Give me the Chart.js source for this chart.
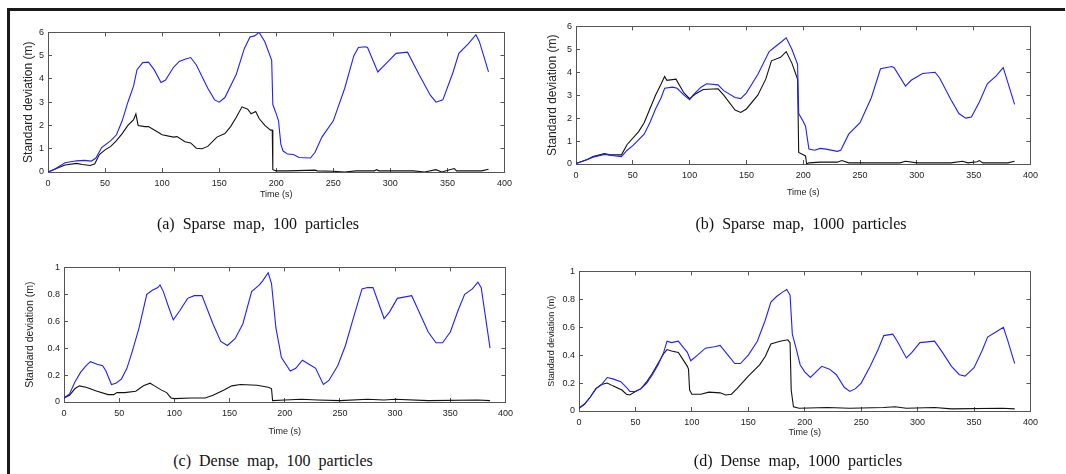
<!DOCTYPE html>
<html>
<head>
<meta charset="utf-8">
<script src="https://cdn.jsdelivr.net/npm/chart.js@4.4.1/dist/chart.umd.min.js"></script>
<style>
  body { margin: 0; background: #fff; width: 1066px; height: 474px; position: relative; overflow: hidden; }
  .frame-top { position: absolute; left: 7px; top: 8px; width: 1058px; height: 3px; background: #1a1a1a; }
  .frame-left { position: absolute; left: 7px; top: 8px; width: 3px; height: 466px; background: #1a1a1a; }
  .box { position: absolute; }
  .cap { position: absolute; font-family: "Liberation Serif", "Times New Roman", serif; font-size: 16px;
         word-spacing: 4px; color: #111; white-space: nowrap; transform: translate(-50%, -50%); }
</style>
</head>
<body>
<div class="frame-top"></div>
<div class="frame-left"></div>

<div class="box" id="boxA"><canvas id="chartA"></canvas></div>
<div class="box" id="boxB"><canvas id="chartB"></canvas></div>
<div class="box" id="boxC"><canvas id="chartC"></canvas></div>
<div class="box" id="boxD"><canvas id="chartD"></canvas></div>

<div class="cap" style="left:258px; top:224px;">(a) Sparse map, 100 particles</div>
<div class="cap" style="left:801px; top:224px;">(b) Sparse map, 1000 particles</div>
<div class="cap" style="left:273px; top:461px;">(c) Dense map, 100 particles</div>
<div class="cap" style="left:798px; top:461px;">(d) Dense map, 1000 particles</div>

<script>
// (a) sparse map, 100 particles
const aBlueT = [0,5,15,25,32,38,42,47,55,60,65,70,75,78,83,88,93,99,103,110,115,120,125,130,140,146,150,155,165,172,177,181,185,190,196,197,200,202,204,206,210,215,220,230,234,240,250,260,268,272,278,280,289,297,305,315,325,335,340,346,355,360,368,375,378,386];
const aBlue  = [0,0.1,0.4,0.48,0.5,0.47,0.6,1.05,1.35,1.6,2.2,3.0,3.7,4.4,4.7,4.72,4.4,3.85,3.95,4.5,4.75,4.85,4.92,4.6,3.6,3.1,3.0,3.2,4.2,5.3,5.8,5.85,6.0,5.6,4.8,2.9,2.5,2.2,1.2,0.9,0.77,0.75,0.62,0.6,0.85,1.5,2.2,3.6,5.0,5.35,5.38,5.35,4.3,4.7,5.1,5.15,4.2,3.3,3.0,3.1,4.3,5.1,5.5,5.9,5.6,4.3];
const aBlackT = [0,10,15,25,30,37,41,45,50,55,60,65,70,75,77,79,85,88,95,100,110,113,120,125,130,135,140,148,155,160,165,170,175,178,182,185,190,195,196.5,197,200,210,234,236,250,260,270,286,288,290,320,330,340,345,352,356,358,380,386];
const aBlack  = [0,0.2,0.3,0.37,0.32,0.28,0.35,0.75,0.95,1.1,1.35,1.65,2.0,2.25,2.5,2.0,1.95,1.95,1.75,1.6,1.5,1.52,1.3,1.25,1.02,1.0,1.1,1.5,1.65,1.95,2.35,2.8,2.7,2.5,2.6,2.3,2.0,1.8,1.8,0.1,0.05,0.05,0.08,0.05,0.03,0.0,0.05,0.05,0.1,0.05,0.05,0.0,0.1,0.0,0.1,0.15,0.05,0.05,0.12];

// (b) sparse map, 1000 particles
const bBlueT = [0,10,15,25,35,40,45,50,55,60,65,70,75,78,85,89,95,100,103,110,115,125,130,140,145,150,160,170,175,180,185,190,195,196,200,202,205,210,215,220,230,233,240,250,260,268,278,280,290,295,305,316,320,330,337,343,348,355,362,370,376,386];
const bBlue  = [0.02,0.2,0.3,0.42,0.35,0.32,0.6,0.8,1.05,1.3,1.8,2.4,2.9,3.3,3.35,3.3,3.0,2.8,3.0,3.35,3.5,3.45,3.2,2.9,2.85,3.1,3.9,4.9,5.1,5.3,5.5,5.0,4.35,2.2,1.85,1.65,0.65,0.6,0.68,0.65,0.55,0.6,1.3,1.8,2.9,4.15,4.25,4.2,3.4,3.65,3.95,4.0,3.75,2.8,2.2,2.0,2.05,2.7,3.5,3.85,4.2,2.6];
const bBlackT = [0,10,15,25,30,40,45,55,60,65,70,75,78,80,88,95,100,105,112,125,130,140,145,150,160,167,172,180,185,190,195,196,200,202,203,205,215,230,234,240,260,285,290,300,330,340,345,353,355,358,380,386];
const bBlack  = [0.02,0.2,0.33,0.45,0.4,0.4,0.85,1.4,1.8,2.4,3.0,3.5,3.82,3.65,3.7,3.1,2.85,3.05,3.25,3.28,3.0,2.35,2.25,2.4,3.0,3.7,4.5,4.65,4.9,4.4,3.7,0.5,0.4,0.35,0.0,0.05,0.08,0.08,0.15,0.05,0.05,0.05,0.12,0.05,0.05,0.12,0.05,0.1,0.15,0.05,0.05,0.12];

// (c) dense map, 100 particles
const cBlueT = [0,5,10,15,20,24,30,35,38,43,47,52,57,62,68,75,80,85,87,90,95,99,105,112,118,125,135,142,148,155,162,170,177,180,185,188,192,197,205,210,216,222,228,235,240,248,255,262,270,275,280,290,295,302,315,320,330,337,343,350,357,363,370,375,378,386];
const cBlue  = [0.03,0.06,0.15,0.22,0.27,0.3,0.28,0.27,0.23,0.13,0.14,0.17,0.25,0.38,0.55,0.8,0.83,0.85,0.87,0.82,0.7,0.61,0.68,0.77,0.79,0.79,0.58,0.45,0.42,0.47,0.58,0.82,0.87,0.9,0.96,0.88,0.55,0.33,0.23,0.25,0.31,0.28,0.25,0.13,0.16,0.27,0.42,0.62,0.84,0.85,0.85,0.62,0.67,0.77,0.79,0.7,0.52,0.44,0.44,0.52,0.68,0.8,0.84,0.89,0.85,0.4];
const cBlackT = [0,5,10,14,20,30,40,45,48,55,65,72,78,82,88,93,97,100,115,128,135,145,152,160,175,185,188,189,200,215,230,250,275,290,300,330,375,386];
const cBlack  = [0.03,0.05,0.1,0.12,0.11,0.08,0.055,0.055,0.07,0.07,0.08,0.12,0.14,0.12,0.09,0.07,0.03,0.025,0.03,0.03,0.05,0.09,0.12,0.13,0.125,0.11,0.1,0.01,0.015,0.02,0.015,0.01,0.02,0.015,0.02,0.01,0.015,0.01];

// (d) dense map, 1000 particles
const dBlueT = [0,5,10,15,20,25,30,37,42,45,50,55,60,65,70,75,78,82,88,92,96,99,105,112,120,125,132,138,143,150,158,165,170,175,180,184,187,189,192,196,200,205,210,215,222,228,235,240,245,250,258,265,270,278,282,290,295,302,315,322,330,337,342,350,357,362,370,376,380,386];
const dBlue  = [0.02,0.05,0.1,0.16,0.19,0.24,0.23,0.21,0.17,0.14,0.14,0.16,0.2,0.26,0.33,0.42,0.5,0.49,0.5,0.46,0.42,0.36,0.4,0.45,0.46,0.47,0.4,0.34,0.34,0.4,0.5,0.65,0.78,0.82,0.85,0.87,0.83,0.55,0.46,0.33,0.28,0.24,0.28,0.32,0.3,0.26,0.17,0.14,0.16,0.2,0.32,0.44,0.54,0.55,0.5,0.38,0.42,0.49,0.5,0.42,0.32,0.26,0.25,0.31,0.43,0.53,0.57,0.6,0.5,0.34];
const dBlackT = [0,5,10,15,20,25,30,38,42,45,50,55,60,65,70,75,78,82,88,92,96,97,98,100,108,115,125,130,135,140,150,160,165,170,178,185,187,188,190,195,220,240,270,280,290,315,330,375,386];
const dBlack  = [0.02,0.05,0.1,0.16,0.19,0.2,0.18,0.15,0.12,0.115,0.14,0.16,0.21,0.27,0.34,0.41,0.44,0.43,0.42,0.37,0.32,0.3,0.15,0.12,0.12,0.135,0.13,0.115,0.12,0.16,0.25,0.33,0.39,0.48,0.5,0.51,0.49,0.15,0.03,0.02,0.025,0.02,0.025,0.03,0.02,0.025,0.015,0.02,0.015];

const xTicks = [0, 50, 100, 150, 200, 250, 300, 350, 400];

const BLUE = '#1f1fff';
const BLACK = '#111111';
const AXIS = '#555555';
const TEXT = '#222222';

function pts(ts, vs) {
  return ts.map((t, i) => ({ x: t, y: vs[i] }));
}

// plot box in page px: l, t, r, b ; yTitleX / xTitleY: title centres in page px
function makeChart(id, boxId, box, blue, black, yMax, yStep, yTitleSize, yTitleX, xTitleY) {
  const padL = 50, padT = 10, padR = 15, padB = 45;
  const el = document.getElementById(boxId);
  el.style.left = (box.l - padL) + 'px';
  el.style.top = (box.t - padT) + 'px';
  el.style.width = (box.r - box.l + padL + padR) + 'px';
  el.style.height = (box.b - box.t + padT + padB) + 'px';

  const yLh = yTitleSize * 1.2;
  const xLh = 9 * 1.2;
  const yTitlePad = (yTitleX - (box.l - padL)) - yLh / 2;
  const xTitlePad = (box.b + padB - xTitleY) - xLh / 2;

  const inward = { drawOnChartArea: false, drawTicks: true, tickLength: -4, color: AXIS, lineWidth: 1 };
  const border = { display: true, color: AXIS, width: 1 };
  const tickFont = { family: 'Liberation Sans, Arial', size: 9 };

  new Chart(document.getElementById(id), {
    type: 'line',
    data: {
      datasets: [
        { data: blue, borderColor: BLUE, borderWidth: 1.1, pointRadius: 0, tension: 0 },
        { data: black, borderColor: BLACK, borderWidth: 1.1, pointRadius: 0, tension: 0 }
      ]
    },
    options: {
      responsive: true,
      maintainAspectRatio: false,
      animation: false,
      layout: { padding: { top: padT, right: padR, left: 0, bottom: 0 } },
      plugins: { legend: { display: false }, tooltip: { enabled: false } },
      scales: {
        x: {
          type: 'linear', position: 'bottom', min: 0, max: 400,
          afterBuildTicks: (s) => { s.ticks = xTicks.map(v => ({ value: v })); },
          ticks: { color: TEXT, font: tickFont, padding: 10, maxRotation: 0 },
          grid: inward, border: border,
          title: { display: true, text: 'Time (s)', color: TEXT, font: tickFont, padding: { top: 0, bottom: xTitlePad } },
          afterFit: (s) => { s.height = padB; }
        },
        y: {
          type: 'linear', position: 'left', min: 0, max: yMax,
          ticks: { stepSize: yStep, color: TEXT, font: tickFont, padding: 8,
                   callback: (v) => String(parseFloat(v.toFixed(2))) },
          grid: inward, border: border,
          title: { display: true, text: 'Standard deviation (m)', color: TEXT, font: { family: 'Liberation Sans, Arial', size: yTitleSize }, padding: { top: yTitlePad, bottom: 0 } },
          afterFit: (s) => { s.width = padL; }
        },
        x2: {
          type: 'linear', position: 'top', min: 0, max: 400,
          afterBuildTicks: (s) => { s.ticks = xTicks.map(v => ({ value: v })); },
          ticks: { display: false }, grid: inward, border: border,
          afterFit: (s) => { s.height = 0; }
        },
        y2: {
          type: 'linear', position: 'right', min: 0, max: yMax,
          ticks: { display: false, stepSize: yStep }, grid: inward, border: border,
          afterFit: (s) => { s.width = 0; }
        }
      }
    }
  });
}

makeChart('chartA', 'boxA', { l: 48, t: 29, r: 507, b: 172 }, pts(aBlueT, aBlue), pts(aBlackT, aBlack), 6, 1, 12, 29, 195);
makeChart('chartB', 'boxB', { l: 576, t: 23, r: 1033, b: 164 }, pts(bBlueT, bBlue), pts(bBlackT, bBlack), 6, 1, 12, 553, 193);
makeChart('chartC', 'boxC', { l: 64, t: 264, r: 508, b: 402 }, pts(cBlueT, cBlue), pts(cBlackT, cBlack), 1, 0.2, 10.5, 30, 432);
makeChart('chartD', 'boxD', { l: 579, t: 268, r: 1033, b: 411 }, pts(dBlueT, dBlue), pts(dBlackT, dBlack), 1, 0.2, 9, 552, 433);
</script>
</body>
</html>
